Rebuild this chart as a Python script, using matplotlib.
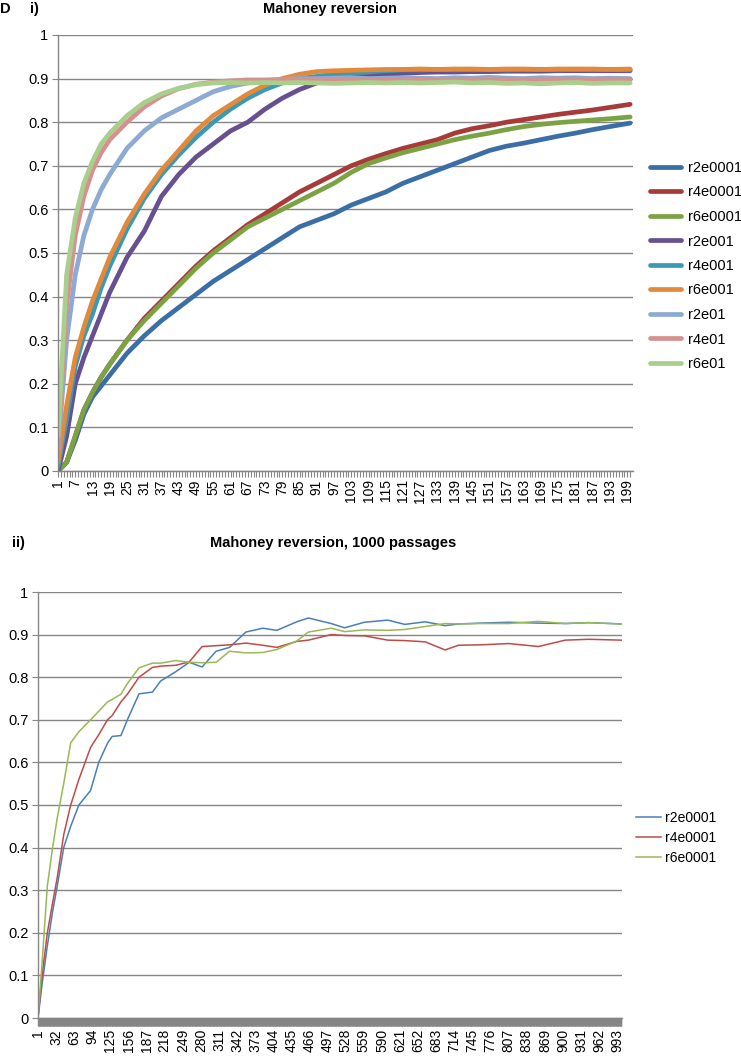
import numpy as np
import matplotlib
matplotlib.use('Agg')
import matplotlib.pyplot as plt

plt.rcParams['font.family'] = ['Liberation Sans', 'DejaVu Sans']

# ---- panel i) : 200 passages, values read at sampled categories ----
x_top = [1, 4, 7, 10, 13, 16, 19, 25, 31, 37, 43, 49, 55, 61, 67, 73, 79, 85, 91, 97,
         103, 109, 115, 121, 127, 133, 139, 145, 151, 157, 163, 169, 175, 181, 187, 193, 200]

r2e0001 = [0, 0.02, 0.07, 0.13, 0.17, 0.195, 0.22, 0.27, 0.31, 0.345, 0.375, 0.405, 0.435, 0.46,
           0.485, 0.51, 0.535, 0.56, 0.575, 0.59, 0.61, 0.625, 0.64, 0.66, 0.675, 0.69, 0.705,
           0.72, 0.735, 0.745, 0.752, 0.76, 0.768, 0.775, 0.783, 0.79, 0.798]
r4e0001 = [0, 0.02, 0.08, 0.14, 0.18, 0.215, 0.245, 0.3, 0.35, 0.39, 0.43, 0.47, 0.505, 0.535,
           0.565, 0.59, 0.615, 0.64, 0.66, 0.68, 0.70, 0.715, 0.728, 0.74, 0.75, 0.76, 0.775,
           0.785, 0.792, 0.80, 0.806, 0.812, 0.818, 0.823, 0.828, 0.834, 0.841]
r6e0001 = [0, 0.02, 0.08, 0.14, 0.18, 0.215, 0.245, 0.3, 0.345, 0.385, 0.425, 0.465, 0.5, 0.53,
           0.56, 0.58, 0.60, 0.62, 0.64, 0.66, 0.685, 0.705, 0.718, 0.73, 0.74, 0.75, 0.76,
           0.768, 0.775, 0.783, 0.79, 0.795, 0.799, 0.802, 0.805, 0.808, 0.812]
r2e001 = [0, 0.08, 0.2, 0.26, 0.31, 0.36, 0.41, 0.49, 0.55, 0.63, 0.68, 0.72, 0.75, 0.78,
          0.80, 0.83, 0.855, 0.875, 0.89, 0.90, 0.905, 0.908, 0.91, 0.912, 0.914, 0.915, 0.915,
          0.916, 0.916, 0.917, 0.917, 0.917, 0.918, 0.918, 0.918, 0.918, 0.918]
r4e001 = [0.01, 0.12, 0.24, 0.31, 0.36, 0.42, 0.47, 0.555, 0.625, 0.68, 0.725, 0.765, 0.80, 0.83,
          0.855, 0.875, 0.89, 0.90, 0.905, 0.91, 0.912, 0.915, 0.918, 0.92, 0.92, 0.921, 0.92,
          0.921, 0.921, 0.92, 0.921, 0.921, 0.92, 0.921, 0.92, 0.921, 0.92]
r6e001 = [0.02, 0.15, 0.26, 0.33, 0.39, 0.44, 0.49, 0.57, 0.635, 0.69, 0.735, 0.78, 0.815, 0.84,
          0.865, 0.885, 0.90, 0.91, 0.916, 0.918, 0.919, 0.92, 0.921, 0.921, 0.922, 0.921, 0.922,
          0.922, 0.921, 0.922, 0.922, 0.921, 0.922, 0.922, 0.922, 0.921, 0.922]
r2e01 = [0.05, 0.3, 0.45, 0.54, 0.6, 0.645, 0.68, 0.74, 0.78, 0.81, 0.83, 0.85, 0.87, 0.882,
         0.89, 0.895, 0.898, 0.90, 0.90, 0.901, 0.902, 0.90, 0.901, 0.902, 0.901, 0.90, 0.902,
         0.901, 0.903, 0.901, 0.90, 0.902, 0.901, 0.902, 0.90, 0.901, 0.90]
r4e01 = [0.06, 0.38, 0.54, 0.63, 0.69, 0.73, 0.76, 0.80, 0.835, 0.86, 0.877, 0.887, 0.892, 0.895,
         0.897, 0.897, 0.898, 0.897, 0.898, 0.897, 0.896, 0.898, 0.897, 0.898, 0.899, 0.897, 0.898,
         0.897, 0.899, 0.898, 0.897, 0.898, 0.899, 0.897, 0.898, 0.897, 0.898]
r6e01 = [0.08, 0.45, 0.58, 0.66, 0.71, 0.75, 0.775, 0.815, 0.845, 0.865, 0.878, 0.886, 0.89, 0.891,
         0.89, 0.891, 0.89, 0.891, 0.89, 0.889, 0.89, 0.891, 0.89, 0.891, 0.89, 0.891, 0.892,
         0.89, 0.891, 0.889, 0.89, 0.888, 0.89, 0.891, 0.889, 0.89, 0.89]

top_names = ['r2e0001', 'r4e0001', 'r6e0001', 'r2e001', 'r4e001', 'r6e001', 'r2e01', 'r4e01', 'r6e01']
top_series = [r2e0001, r4e0001, r6e0001, r2e001, r4e001, r6e001, r2e01, r4e01, r6e01]
top_colors = ['#3b6ea6', '#a83b39', '#7ca343', '#67508f', '#3a9ab3', '#e3893b', '#8caad3', '#d5918f', '#a9cf8c']

# ---- panel ii) : 1000 passages ----
x_bot = [1, 8, 17, 26, 34, 45, 57, 71, 91, 105, 120, 128, 143, 154, 174, 197, 211, 237, 260, 282,
         306, 329, 357, 386, 410, 444, 464, 503, 526, 560, 600, 629, 664, 698, 721, 760, 807, 858,
         904, 944, 1000]
b_r2e0001 = [0, 0.08, 0.17, 0.25, 0.31, 0.40, 0.45, 0.50, 0.534, 0.60, 0.645, 0.661, 0.663, 0.70,
             0.761, 0.765, 0.791, 0.813, 0.835, 0.824, 0.861, 0.87, 0.906, 0.915, 0.91, 0.93, 0.939,
             0.926, 0.916, 0.929, 0.934, 0.924, 0.93, 0.921, 0.925, 0.927, 0.929, 0.927, 0.926, 0.928, 0.925]
b_r4e0001 = [0, 0.1, 0.2, 0.27, 0.33, 0.43, 0.50, 0.56, 0.635, 0.665, 0.70, 0.71, 0.742, 0.76,
             0.80, 0.823, 0.826, 0.828, 0.836, 0.872, 0.874, 0.876, 0.88, 0.875, 0.87, 0.884, 0.887,
             0.90, 0.898, 0.897, 0.887, 0.886, 0.883, 0.864, 0.875, 0.876, 0.879, 0.872, 0.887, 0.889, 0.887]
b_r6e0001 = [0, 0.13, 0.31, 0.40, 0.47, 0.55, 0.646, 0.672, 0.70, 0.72, 0.742, 0.748, 0.76, 0.785,
             0.822, 0.833, 0.833, 0.839, 0.835, 0.834, 0.835, 0.861, 0.857, 0.858, 0.865, 0.885, 0.906,
             0.915, 0.907, 0.911, 0.91, 0.912, 0.919, 0.926, 0.925, 0.926, 0.926, 0.931, 0.926, 0.928, 0.925]

bot_names = ['r2e0001', 'r4e0001', 'r6e0001']
bot_series = [b_r2e0001, b_r4e0001, b_r6e0001]
bot_colors = ['#4a7ebb', '#be4b48', '#98b954']

yticks = np.arange(0, 1.01, 0.1)
ylabels = ['0', '0.1', '0.2', '0.3', '0.4', '0.5', '0.6', '0.7', '0.8', '0.9', '1']
grey = '#868686'

fig = plt.figure(figsize=(7.41, 10.57), dpi=100)


def style_axes(ax, n, step):
    ax.set_ylim(0, 1)
    ax.set_xlim(1, n + 1)
    ax.set_yticks(yticks)
    ax.set_yticklabels(ylabels, fontsize=10.5)
    ax.set_xticks(np.arange(1, n + 1, step))
    ax.set_xticklabels([str(v) for v in range(1, n + 1, step)], rotation=90, fontsize=10)
    ax.set_xticks(np.arange(1, n + 1), minor=True)
    ax.tick_params(axis='x', which='both', length=4, width=0.8, color=grey, pad=2)
    ax.tick_params(axis='y', length=4, width=0.8, color=grey, pad=3)
    for s in ['top', 'right']:
        ax.spines[s].set_visible(False)
    for s in ['left', 'bottom']:
        ax.spines[s].set_color(grey)
        ax.spines[s].set_linewidth(1)
    ax.yaxis.grid(True, color=grey, linewidth=1)
    ax.set_axisbelow(True)


# top panel
ax1 = fig.add_axes([58 / 741, 1 - 471 / 1057, 575 / 741, 436 / 1057])
for name, vals, col in zip(top_names, top_series, top_colors):
    ax1.plot(x_top, vals, color=col, lw=3.4, label=name, solid_capstyle='round')
style_axes(ax1, 200, 6)
ax1.legend(loc='center left', bbox_to_anchor=(650 / 741, 1 - 266 / 1057), bbox_transform=fig.transFigure,
           frameon=False, fontsize=10.5, handlelength=2.1, handletextpad=0.5, labelspacing=0.72,
           borderpad=0, borderaxespad=0)

# bottom panel
ax2 = fig.add_axes([38 / 741, 1 - 1018 / 1057, 584 / 741, 426 / 1057])
for name, vals, col in zip(bot_names, bot_series, bot_colors):
    ax2.plot(x_bot, vals, color=col, lw=1.1, label=name)
style_axes(ax2, 1000, 31)
ax2.tick_params(axis='x', which='both', length=6, width=1.0)
ax2.legend(loc='center left', bbox_to_anchor=(636 / 741, 1 - 838 / 1057), bbox_transform=fig.transFigure,
           frameon=False, fontsize=10, handlelength=1.8, handletextpad=0.3, labelspacing=0.45,
           borderpad=0, borderaxespad=0)

# titles and panel labels
fig.text(330 / 741, 1 - 9 / 1057, 'Mahoney reversion', ha='center', va='center', fontsize=10.5, fontweight='bold')
fig.text(0 / 741, 1 - 9 / 1057, 'D', ha='left', va='center', fontsize=10.5, fontweight='bold')
fig.text(30 / 741, 1 - 9 / 1057, 'i)', ha='left', va='center', fontsize=10.5, fontweight='bold')
fig.text(12 / 741, 1 - 543 / 1057, 'ii)', ha='left', va='center', fontsize=10.5, fontweight='bold')
fig.text(333 / 741, 1 - 543 / 1057, 'Mahoney reversion, 1000 passages', ha='center', va='center',
         fontsize=10.5, fontweight='bold')

fig.savefig('out.png', dpi=100)
